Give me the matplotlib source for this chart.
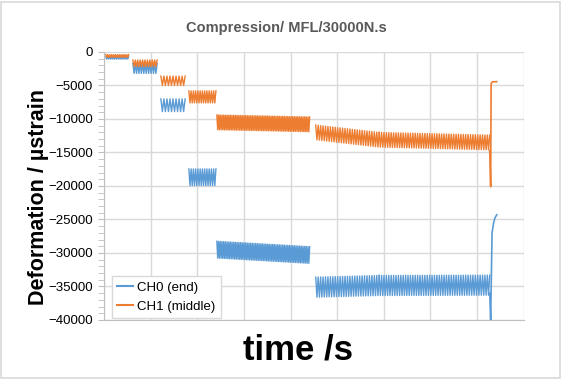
import matplotlib.pyplot as plt
import numpy as np
from matplotlib.patches import Rectangle

# Load steps (time in grid units, no labels on the x axis)
seg_start = [0.04, 0.62, 1.22, 1.82, 2.42, 4.54, 5.90]
seg_end = [0.53, 1.14, 1.74, 2.40, 4.41, 5.90, 8.27]
seg_cycles = [12, 10, 8, 12, 55, 26, 46]

# CH0 (end): mean level at start / end of each step and half the swing
ch0_from = [-900, -2450, -7950, -18700, -29500, -35100, -34850]
ch0_to = [-900, -2450, -7950, -18700, -30300, -34850, -34800]
ch0_swing = [150, 750, 950, 1250, 1250, 1500, 1500]

# CH1 (middle)
ch1_from = [-600, -1700, -4300, -6700, -10500, -12000, -13100]
ch1_to = [-600, -1700, -4300, -6700, -10800, -13100, -13500]
ch1_swing = [200, 500, 700, 900, 1100, 1100, 1100]

# unloading at the end of the test
ch0_tail_t = [8.27, 8.29, 8.32, 8.35, 8.38, 8.42]
ch0_tail = [-36000, -40000, -27000, -25600, -24800, -24300]
ch1_tail_t = [8.27, 8.29, 8.30, 8.33, 8.42]
ch1_tail = [-14700, -20100, -4700, -4450, -4430]

BLUE = "#5B9BD5"
ORANGE = "#ED7D31"
GRID = "#d9d9d9"

plt.rcParams['font.family'] = ['Liberation Sans', 'DejaVu Sans']


def step_wave(t0, t1, n, level0, level1, swing):
    """Zigzag between the upper and lower edge of one load step."""
    t = np.linspace(t0, t1, 2 * n + 1)
    level = np.linspace(level0, level1, len(t))
    sign = np.where(np.arange(len(t)) % 2 == 0, 1, -1)
    return t, level + sign * swing


fig = plt.figure(figsize=(5.62, 3.79), dpi=100)
ax = fig.add_axes([0.185, 0.1557, 0.747, 0.7071])

for name, color, lv0, lv1, sw, tt, tv in [
        ("CH0 (end)", BLUE, ch0_from, ch0_to, ch0_swing, ch0_tail_t, ch0_tail),
        ("CH1 (middle)", ORANGE, ch1_from, ch1_to, ch1_swing, ch1_tail_t, ch1_tail)]:
    for i in range(len(seg_start)):
        t, y = step_wave(seg_start[i], seg_end[i], seg_cycles[i], lv0[i], lv1[i], sw[i])
        ax.plot(t, y, color=color, lw=1.0, label=name if i == 0 else None)
    ax.plot(tt, tv, color=color, lw=1.2)

ax.set_xlim(0, 9)
ax.set_ylim(-40000, 0)
ax.set_xticks(np.arange(0, 10, 1))
ax.set_xticklabels([])
ax.set_yticks(np.arange(-40000, 1, 5000))
ax.set_yticks(np.arange(-40000, 1, 1000), minor=True)
ax.tick_params(axis='x', length=0)
ax.tick_params(axis='y', which='both', direction='out', length=4, color="#bfbfbf",
               labelsize=9.5, labelcolor="#000000", pad=4)
ax.grid(True, color=GRID, lw=1)
ax.set_axisbelow(True)
for side in ["top", "right"]:
    ax.spines[side].set_visible(False)
for side in ["left", "bottom"]:
    ax.spines[side].set_color("#bfbfbf")

leg = ax.legend(loc="lower left", bbox_to_anchor=(0.019, 0.008), borderaxespad=0,
                fontsize=9.5, handlelength=1.2, handletextpad=0.3, fancybox=False,
                edgecolor=GRID, framealpha=1)
for line in leg.get_lines():
    line.set_linewidth(1.5)

fig.text(0.51, 0.926, "Compression/ MFL/30000N.s", ha="center", va="center",
         fontsize=10.5, fontweight="bold", color="#595959")
fig.text(0.068, 0.48, "Deformation / µstrain", rotation=90, ha="center", va="center",
         fontsize=15.5, fontweight="bold")
fig.text(0.53, 0.077, "time /s", ha="center", va="center", fontsize=25, fontweight="bold")

fig.patches.append(Rectangle((0.002, 0.003), 0.995, 0.993, transform=fig.transFigure,
                             fill=False, edgecolor=GRID, lw=1.2))

fig.savefig("out.png", dpi=100)
